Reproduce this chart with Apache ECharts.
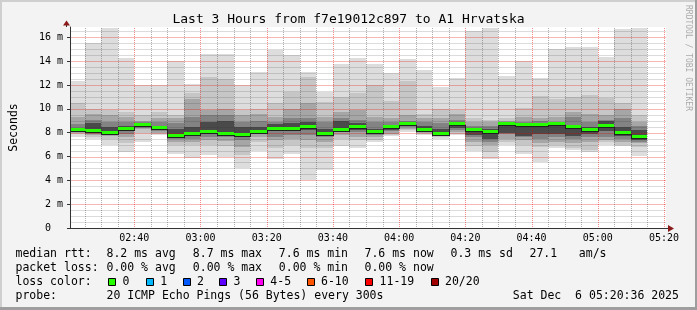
<!DOCTYPE html>
<html><head><meta charset="utf-8">
<script src="https://cdn.jsdelivr.net/npm/echarts@6/dist/echarts.min.js"></script>
<style>html,body{margin:0;padding:0;background:#f3f3f3}#c{width:697px;height:310px}</style>
</head><body><div id="c"></div>
<script>
// ---------- data ----------
const slotTimes = ['02:20','02:25','02:30','02:35','02:40','02:45','02:50','02:55',
  '03:00','03:05','03:10','03:15','03:20','03:25','03:30','03:35','03:40','03:45','03:50','03:55',
  '04:00','04:05','04:10','04:15','04:20','04:25','04:30','04:35','04:40','04:45','04:50','04:55',
  '05:00','05:05','05:10'];
const smokeMax = [12.3,15.5,16.8,14.3,12.0, 12.0,14.0,12.1,14.6,14.6, 12.0,13.1,14.9,14.55,13.1, 11.4,13.8,14.3,13.75,13.05, 14.2,13.25,11.8,12.55,16.5, 16.8,12.75,14.0,12.6,15.0, 15.2,15.2,14.35,16.7,16.8];
const smokeMin = [7.6,7.5,7.0,6.35,7.2, 7.8,6.25,5.85,6.1,6.0, 5.05,6.45,5.75,6.2,4.0, 4.85,6.9,6.7,7.2,7.75, 8.05,7.8,7.5,7.8,6.45, 5.8,7.0,6.2,5.55,6.75, 6.55,6.35,7.0,6.9,6.05];
const band2Hi = [10.5,10.0,9.9,9.75,9.5, 9.75,9.5,11.3,12.7,12.5, 9.9,10.0,10.45,11.4,12.7, 10.6,11.0,11.3,12.0,10.7, 12.3,9.6,10.0,9.9,9.2, 9.05,9.2,10.1,11.1,10.85, 11.0,11.15,10.9,10.45,9.5];
const band2Lo = [7.9,7.65,7.5,7.1,8.0, 7.9,6.95,7.0,6.95,6.9, 6.1,7.2,6.7,6.95,6.7, 6.7,7.5,7.4,7.4,7.8, 8.2,7.9,7.65,7.9,6.9, 6.4,7.2,6.95,6.8,6.95, 6.7,6.55,7.2,7.0,6.8];
const band3Hi = [9.3,9.6,9.5,9.3,9.0, 9.2,9.2,10.8,9.9,10.0, 9.5,9.6,9.3,10.0,10.45, 9.3,9.75,9.9,9.3,9.2, 9.5,9.2,9.2,9.6,8.9, 8.9,9.0,9.3,9.25,9.3, 9.75,9.6,9.5,10.0,8.9];
const band3Lo = [8.0,7.8,7.7,7.65,8.3, 8.0,7.2,7.2,7.4,7.3, 6.8,7.65,7.4,7.5,7.4, 7.2,7.8,7.65,7.65,7.9, 8.35,8.0,7.8,8.05,7.2, 6.95,7.5,7.4,7.1,7.2, 7.1,7.2,7.4,7.2,7.1];
const band4Hi = [8.7,9.05,8.9,8.9,8.9, 8.9,8.8,9.3,9.5,9.5, 8.9,9.0,8.9,9.2,9.2, 8.9,9.2,9.05,8.9,8.9, 9.0,8.9,8.8,9.05,8.6, 8.6,8.9,8.9,9.0,8.9, 9.3,8.9,9.1,9.2,8.6];
const band4Lo = [8.05,7.9,7.85,7.9,8.4, 8.1,7.5,7.5,7.65,7.6, 7.4,7.9,7.65,7.8,7.8, 7.65,8.05,8.05,7.8,8.1, 8.5,8.1,7.85,8.2,7.6, 7.2,7.9,7.65,7.5,7.65, 7.5,7.6,7.65,7.5,7.2];
const band5Hi = [8.4,8.8,8.5,8.6,8.8, 8.6,8.3,8.5,8.9,9.0, 8.5,8.5,8.7,8.8,8.9, 8.3,9.0,8.8,8.3,8.6, 8.9,8.6,8.3,8.9,8.3, 8.3,8.8,8.7,8.7,8.75, 8.5,8.5,9.0,8.5,8.2];
const band5Lo = [8.1,8.05,7.9,8.1,8.5, 8.2,7.6,7.75,7.85,7.8, 7.6,8.0,8.1,8.1,8.2, 7.8,8.2,8.2,7.85,8.2, 8.6,8.15,7.9,8.4,7.8, 7.5,8.0,7.7,7.9,7.9, 7.7,7.9,8.1,7.7,7.35];
const medianRtt = [8.2,8.15,8.0,8.3,8.65, 8.4,7.7,7.85,8.05,7.9, 7.8,8.05,8.35,8.35,8.45, 7.9,8.25,8.45,8.05,8.45, 8.7,8.2,7.9,8.7,8.25, 8.05,8.7,8.65,8.65,8.7, 8.45,8.25,8.55,8.0,7.6];
const xTickLabels = ['02:40','03:00','03:20','03:40','04:00','04:20','04:40','05:00','05:20'];
const yTickLabels = ['0  ','2 m','4 m','6 m','8 m','10 m','12 m','14 m','16 m'];
const lossLabels = ['0','1','2','3','4-5','6-10','11-19','20/20'];
const lossColors = ['#26ff00','#00b8ff','#0059ff','#5e00ff','#ff00f0','#ff5500','#ff0000','#a10000'];
const statsRow1 = ['median rtt:','8.2 ms avg','8.7 ms max','7.6 ms min','7.6 ms now','0.3 ms sd','27.1','am/s'];
const statsRow2 = ['packet loss:','0.00 % avg','0.00 % max','0.00 % min','0.00 % now'];
const probeRow = ['probe:','20 ICMP Echo Pings (56 Bytes) every 300s','Sat Dec  6 05:20:36 2025'];
const titleText = 'Last 3 Hours from f7e19012c897 to A1 Hrvatska';

// ---------- layout ----------
const FONT = "'DejaVu Sans Mono', monospace";
const t2m = s => { const p = s.split(':').map(Number); return p[0]*60 + p[1]; };
const SLOT = 5;
const viewStart = t2m('02:20') + 36/60, viewEnd = viewStart + 180;
const PL = 66, PT = 27, PW = 600, PH = 201;
const yMax = 16.87;
const MAJOR = 'rgba(235,0,0,0.45)', MINOR = 'rgba(50,50,50,0.38)';
const MAJOR_H = 'rgba(235,0,0,0.28)', MINOR_H = 'rgba(50,50,50,0.17)';
const xTickValues = xTickLabels.map(t2m);
const yTickValues = yTickLabels.map((_, k) => 2 * k);
const vGrid = [], hGrid = [];
for (let m = 145; m <= 320; m += 5) vGrid.push(m);
for (let k = 1; k <= 33; k++) hGrid.push(k / 2);

const bands = [
  {hi: smokeMax, lo: smokeMin, color: '#dddddd'},
  {hi: band2Hi, lo: band2Lo, color: '#c6c6c6'},
  {hi: band3Hi, lo: band3Lo, color: '#a6a6a6'},
  {hi: band4Hi, lo: band4Lo, color: '#838383'},
  {hi: band5Hi, lo: band5Lo, color: '#4a4a4a'}
];

function clipTo(params, r) {
  const cs = params.coordSys;
  return echarts.graphic.clipRectByRect(r, {x: cs.x, y: cs.y, width: cs.width, height: cs.height});
}
// grid drawn above the smoke (as rrdtool does), positioned through the axis scales
function gridElements(params, api) {
  const cs = params.coordSys, els = [];
  const x1 = Math.round(cs.x) + 1, x2 = Math.round(cs.x + cs.width);
  const y1 = Math.round(cs.y), y2 = Math.round(cs.y + cs.height);
  vGrid.forEach(v => {
    const x = Math.round(api.coord([v, 0])[0]);
    const fill = (v % 20 === 0) ? MAJOR : MINOR;
    for (let y = y1 + 1; y < y2; y += 2) els.push({type: 'rect', z2: 50, shape: {x, y, width: 1, height: 1}, style: {fill}});
  });
  hGrid.forEach(v => {
    const yy = Math.round(api.coord([viewStart + 1, v])[1]);
    els.push({type: 'rect', z2: 49, shape: {x: x1, y: yy, width: x2 - x1, height: 1},
      style: {fill: (v % 2 === 0) ? MAJOR_H : MINOR_H}});
  });
  return els;
}
function renderSmoke(params, api) {
  const i = params.dataIndex, x0 = t2m(slotTimes[i]);
  const kids = [];
  bands.forEach(b => {
    const p1 = api.coord([x0, b.hi[i]]), p2 = api.coord([x0 + SLOT, b.lo[i]]);
    const x = Math.round(p1[0]), y = Math.round(p1[1]);
    const r = clipTo(params, {x, y, width: Math.round(p2[0]) - x, height: Math.round(p2[1]) - y});
    if (r) kids.push({type: 'rect', z2: 1, shape: r, style: {fill: b.color}});
  });
  if (i === slotTimes.length - 1) kids.push.apply(kids, gridElements(params, api));
  return {type: 'group', children: kids};
}
function renderMedian(params, api) {
  const i = params.dataIndex, x0 = t2m(slotTimes[i]);
  const xs = Math.round(api.coord([x0, 0])[0]), xe = Math.round(api.coord([x0 + SLOT, 0])[0]);
  const ym = Math.round(api.coord([x0, medianRtt[i]])[1]);
  const kids = [];
  const add = (r, fill) => { const c = clipTo(params, r); if (c) kids.push({type: 'rect', shape: c, style: {fill}}); };
  add({x: xs, y: ym - 2, width: xe - xs, height: 3}, lossColors[0]);
  add({x: xs, y: ym + 1, width: xe - xs, height: 1}, '#202020');
  if (i > 0) {
    const yp = Math.round(api.coord([x0, medianRtt[i-1]])[1]);
    add({x: xs, y: Math.min(yp, ym) + 1, width: 1, height: Math.abs(yp - ym) + 1}, '#202020');
  }
  return {type: 'group', children: kids};
}

const txt = (x, y, text) => ({type: 'text', x, y, silent: true,
  style: {text, font: '11.5px ' + FONT, fill: '#000', textAlign: 'left', textVerticalAlign: 'middle'}});
const graphics = [
  {type: 'rect', shape: {x: 0, y: 0, width: 697, height: 2}, style: {fill: '#cfcfcf'}},
  {type: 'rect', shape: {x: 0, y: 0, width: 2, height: 310}, style: {fill: '#cfcfcf'}},
  {type: 'rect', shape: {x: 0, y: 307, width: 697, height: 3}, style: {fill: '#9e9e9e'}},
  {type: 'rect', shape: {x: 695, y: 0, width: 2, height: 310}, style: {fill: '#9e9e9e'}},
  {type: 'line', shape: {x1: PL + PW, y1: PT + PH + 0.5, x2: PL + PW + 4, y2: PT + PH + 0.5}, style: {stroke: '#333', lineWidth: 1}},
  {type: 'polygon', shape: {points: [[PL + PW + 2, PT + PH - 3], [PL + PW + 2, PT + PH + 4], [PL + PW + 8, PT + PH + 0.5]]}, style: {fill: '#8b1a1a'}},
  {type: 'line', shape: {x1: PL + 0.5, y1: PT, x2: PL + 0.5, y2: PT - 2}, style: {stroke: '#333', lineWidth: 1}},
  {type: 'polygon', shape: {points: [[PL - 3, PT - 1.5], [PL + 4, PT - 1.5], [PL + 0.5, PT - 6.5]]}, style: {fill: '#8b1a1a'}},
  {type: 'text', x: 688, y: 5, rotation: -Math.PI / 2, silent: true,
    style: {text: 'RRDTOOL / TOBI OETIKER', font: '8px ' + FONT, fill: '#ababab', textAlign: 'left', textVerticalAlign: 'middle'}}
];
const row1X = [16, 107, 193.3, 279.3, 365, 451, 530, 579.3];
statsRow1.forEach((s, k) => graphics.push(txt(row1X[k] - 0.5, 254.3, s)));
statsRow2.forEach((s, k) => graphics.push(txt(row1X[k] - 0.5, 268.2, s)));
graphics.push(txt(15.5, 282.3, 'loss color:'));
const sqX = [108.3, 146, 182.7, 219.3, 256, 306.7, 365.3, 430.7];
lossLabels.forEach((l, k) => {
  graphics.push({type: 'rect', shape: {x: Math.round(sqX[k]) + 0.5, y: 278.5, width: 7, height: 7},
    style: {fill: lossColors[k], stroke: '#000', lineWidth: 1}});
  graphics.push(txt(sqX[k] + 14.3, 282.3, l));
});
[15.5, 106.5, 512.8].forEach((x, k) => graphics.push(txt(x, 296.2, probeRow[k])));

const chart = echarts.init(document.getElementById('c'), null, {renderer: 'canvas'});
chart.setOption({
  animation: false,
  backgroundColor: '#f3f3f3',
  title: {text: titleText, left: 'center', top: 13, padding: 0,
    textStyle: {fontFamily: FONT, fontSize: 13, fontWeight: 'normal', color: '#000'}},
  grid: {left: PL, top: PT, width: PW, height: PH, show: true, backgroundColor: '#ffffff', borderWidth: 0},
  xAxis: {type: 'value', min: viewStart, max: viewEnd, z: 4,
    axisLine: {show: true, lineStyle: {color: '#333', width: 1}},
    axisTick: {show: false}, splitLine: {show: false},
    axisLabel: {show: true, customValues: xTickValues, margin: 5, fontFamily: FONT, fontSize: 10, color: '#000',
      formatter: v => { const k = xTickValues.findIndex(t => Math.abs(t - v) < 1e-6); return k >= 0 ? xTickLabels[k] : ''; }}},
  yAxis: {type: 'value', min: 0, max: yMax, z: 4,
    name: 'Seconds', nameLocation: 'middle', nameGap: 50,
    nameTextStyle: {fontFamily: FONT, fontSize: 11.5, color: '#000'},
    axisLine: {show: true, lineStyle: {color: '#333', width: 1}},
    axisTick: {show: true, length: 3, customValues: yTickValues, lineStyle: {color: '#333'}},
    splitLine: {show: false},
    axisLabel: {show: true, customValues: yTickValues, margin: 7, fontFamily: FONT, fontSize: 10, color: '#000',
      formatter: v => { const k = yTickValues.findIndex(t => Math.abs(t - v) < 1e-6); return k >= 0 ? yTickLabels[k] : ''; }}},
  series: [
    {type: 'custom', renderItem: renderSmoke, z: 2,
      encode: {x: 0, y: [1, 2]}, data: slotTimes.map((t, i) => [t2m(t), smokeMax[i], smokeMin[i]])},
    {type: 'custom', renderItem: renderMedian, z: 4,
      encode: {x: 0, y: 1}, data: slotTimes.map((t, i) => [t2m(t), medianRtt[i]])}
  ],
  graphic: graphics
});
</script></body></html>
